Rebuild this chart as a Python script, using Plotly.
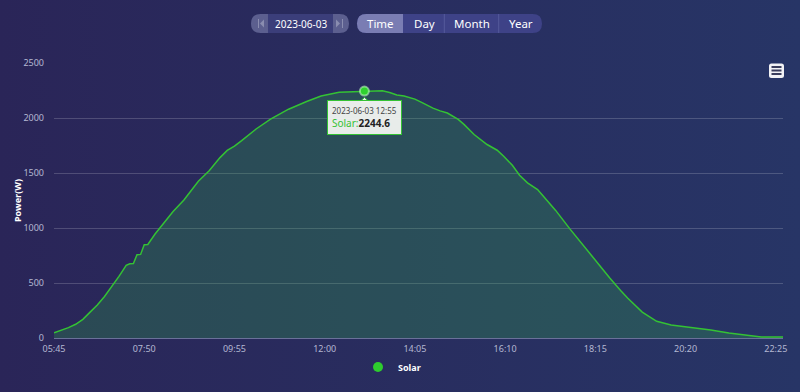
import plotly.graph_objects as go
import urllib.parse

# ---------------- data ----------------
day = "2023-06-03"
times = ["05:45", "05:55", "06:05", "06:15", "06:25", "06:35", "06:45", "06:55",
         "07:05", "07:15", "07:20", "07:25", "07:30", "07:35", "07:40", "07:45",
         "07:50", "07:55", "08:05", "08:15", "08:30", "08:45", "09:05", "09:20",
         "09:35", "09:45", "09:55", "10:05", "10:25", "10:45", "11:10", "11:35",
         "11:55", "12:20", "12:55", "13:20", "13:30", "13:40", "13:50", "14:05",
         "14:15", "14:30", "14:40", "14:50", "15:05", "15:13", "15:27", "15:45",
         "15:59", "16:08", "16:20", "16:30", "16:41", "16:55", "17:09", "17:20",
         "17:40", "18:05", "18:25", "18:35", "18:50", "19:00", "19:20", "19:40",
         "20:00", "20:25", "20:55", "21:20", "21:50", "22:05", "22:35"]
solar = [48, 70, 94, 125, 170, 235, 300, 377,
         465, 560, 610, 660, 675, 678, 757, 760,
         848, 850, 945, 1030, 1150, 1255, 1425, 1520,
         1640, 1705, 1745, 1795, 1900, 1990, 2080, 2150,
         2200, 2235, 2244.6, 2247, 2232, 2209, 2200, 2172,
         2140, 2090, 2065, 2045, 1987, 1942, 1850, 1759,
         1707, 1653, 1570, 1480, 1410, 1349, 1243, 1160,
         990, 785, 630, 546, 431, 362, 235, 152,
         118, 98, 73, 45, 18, 9, 9]
tick_labels = ["05:45", "07:50", "09:55", "12:00", "14:05", "16:10", "18:15", "20:20", "22:25"]
selected_time = "12:55"
series_name = "Solar"
y_title = "Power(W)"
y_max = 2500
y_step = 500
buttons = ["Time", "Day", "Month", "Year"]

x_vals = [f"{day} {t}" for t in times]
sel_i = times.index(selected_time)

# ---------------- geometry helpers (pixels -> paper) ----------------
W, H = 800, 392
L, R, T, B = 54, 783, 63, 338


def px(x):
    return (x - L) / (R - L)


def py(y):
    return (B - y) / (B - T)


def P(x, y):
    return f"{px(x):.5f},{py(y):.5f}"


def rrect(x0, y0, x1, y1, r, left=True, right=True):
    s = []
    s.append(f"M{P(x0 + r, y0)}" if left else f"M{P(x0, y0)}")
    if right:
        s.append(f"L{P(x1 - r, y0)}")
        s.append(f"Q{P(x1, y0)} {P(x1, y0 + r)}")
        s.append(f"L{P(x1, y1 - r)}")
        s.append(f"Q{P(x1, y1)} {P(x1 - r, y1)}")
    else:
        s.append(f"L{P(x1, y0)}")
        s.append(f"L{P(x1, y1)}")
    if left:
        s.append(f"L{P(x0 + r, y1)}")
        s.append(f"Q{P(x0, y1)} {P(x0, y1 - r)}")
        s.append(f"L{P(x0, y0 + r)}")
        s.append(f"Q{P(x0, y0)} {P(x0 + r, y0)}")
    else:
        s.append(f"L{P(x0, y1)}")
    s.append("Z")
    return " ".join(s)


FONT = "Noto Sans, Open Sans, sans-serif"
GREEN = "#34c234"
shapes = []
annotations = []

# ---- background gradient via svg image ----
svg = ("<svg xmlns='http://www.w3.org/2000/svg' width='800' height='392'>"
       "<defs><linearGradient id='g' x1='0' y1='0' x2='1' y2='0'>"
       "<stop offset='0' stop-color='#2a2558'/><stop offset='1' stop-color='#273566'/>"
       "</linearGradient></defs><rect width='800' height='392' fill='url(#g)'/></svg>")
bg_src = "data:image/svg+xml;charset=utf-8," + urllib.parse.quote(svg)

# ---- date picker pill ----
shapes.append(dict(type="path", xref="paper", yref="paper", layer="above",
                   path=rrect(251, 14, 349, 33, 9.5), fillcolor="#5c5f8f", line=dict(width=0)))
shapes.append(dict(type="path", xref="paper", yref="paper", layer="above",
                   path=rrect(268, 14, 333, 33, 0, left=False, right=False),
                   fillcolor="#3b3e7a", line=dict(width=0)))
for (lx, tri) in [(258.5, [(264, 19.5), (264, 27.5), (260, 23.5)]),
                  (342.5, [(336, 19.5), (336, 27.5), (340, 23.5)])]:
    shapes.append(dict(type="line", xref="paper", yref="paper", layer="above",
                       x0=px(lx), x1=px(lx), y0=py(19), y1=py(28),
                       line=dict(color="#8a8db0", width=1)))
    shapes.append(dict(type="path", xref="paper", yref="paper", layer="above",
                       path=f"M{P(*tri[0])} L{P(*tri[1])} L{P(*tri[2])} Z",
                       fillcolor="#8a8db0", line=dict(width=0)))
annotations.append(dict(text=day, xref="paper", yref="paper", x=px(300.5), y=py(23.5),
                        showarrow=False, font=dict(family=FONT, size=10, color="#ffffff"),
                        xanchor="center", yanchor="middle"))

# ---- time/day/month/year buttons ----
shapes.append(dict(type="path", xref="paper", yref="paper", layer="above",
                   path=rrect(357, 14, 542, 33, 9.5), fillcolor="#3e4287", line=dict(width=0)))
shapes.append(dict(type="path", xref="paper", yref="paper", layer="above",
                   path=rrect(357, 14, 403, 33, 9.5, left=True, right=False),
                   fillcolor="#7a7db3", line=dict(width=0)))
for dx in [444.3, 498.7]:
    shapes.append(dict(type="line", xref="paper", yref="paper", layer="above",
                       x0=px(dx), x1=px(dx), y0=py(14), y1=py(33),
                       line=dict(color="#565a9c", width=1)))
for label, cx in zip(buttons, [380, 424, 471.5, 520.5]):
    annotations.append(dict(text=label, xref="paper", yref="paper", x=px(cx), y=py(23.5),
                            showarrow=False, font=dict(family=FONT, size=11.5, color="#ffffff"),
                            xanchor="center", yanchor="middle"))

# ---- hamburger icon ----
shapes.append(dict(type="path", xref="paper", yref="paper", layer="above",
                   path=rrect(769, 63.5, 784, 78, 2.5), fillcolor="#f2f2f5", line=dict(width=0)))
for yy in [67, 70.5, 74]:
    shapes.append(dict(type="line", xref="paper", yref="paper", layer="above",
                       x0=px(771.5), x1=px(781.5), y0=py(yy), y1=py(yy),
                       line=dict(color="#3a3d5c", width=2)))

# ---- y axis title ----
annotations.append(dict(text=f"<b>{y_title}</b>", xref="paper", yref="paper",
                        x=px(17), y=py(201), textangle=-90, showarrow=False,
                        font=dict(family=FONT, size=9, color="#ffffff"),
                        xanchor="center", yanchor="middle"))

# ---- tooltip ----
shapes.append(dict(type="path", xref="paper", yref="paper", layer="above",
                   path=f"M{P(359, 102.5)} L{P(364.5, 97.5)} L{P(370, 102.5)} Z",
                   fillcolor="#eef0ee", line=dict(color=GREEN, width=1)))
annotations.append(dict(
    text=(f"<span style='font-size:8px;color:#444'>{day} {selected_time}</span><br>"
          f"<span style='color:{GREEN}'>{series_name}:</span>"
          f"<b><span style='color:#222'>{solar[sel_i]}</span></b>"),
    x=x_vals[sel_i], y=solar[sel_i], xref="x", yref="y", yshift=-26,
    showarrow=False, align="left", xanchor="center", yanchor="middle",
    bgcolor="rgba(240,242,240,0.96)", bordercolor=GREEN, borderwidth=1, borderpad=4,
    font=dict(family=FONT, size=10, color="#222")))

fig = go.Figure()
fig.add_trace(go.Scatter(
    x=x_vals, y=solar, mode="lines", name=series_name, showlegend=False,
    line=dict(color=GREEN, width=1.5, shape="linear"),
    fill="tozeroy", fillcolor="rgba(46,180,70,0.25)", hoverinfo="skip"))
fig.add_trace(go.Scatter(
    x=[x_vals[sel_i]], y=[solar[sel_i]], mode="markers", showlegend=False,
    marker=dict(color="#2fd02f", size=9, line=dict(color="rgba(200,255,200,0.55)", width=2)),
    hoverinfo="skip"))
fig.add_trace(go.Scatter(
    x=[None], y=[None], mode="markers", name=series_name, showlegend=True,
    marker=dict(color="#2ecc2e", size=10, symbol="circle")))

fig.update_layout(
    width=W, height=H,
    margin=dict(l=L, r=W - R, t=T, b=H - B, pad=0, autoexpand=False),
    paper_bgcolor="rgba(0,0,0,0)", plot_bgcolor="rgba(0,0,0,0)",
    images=[dict(source=bg_src, xref="paper", yref="paper",
                 x=-L / (R - L), y=1 + T / (B - T),
                 sizex=W / (R - L), sizey=H / (B - T),
                 xanchor="left", yanchor="top", sizing="stretch", layer="below")],
    font=dict(family=FONT, color="#b4b8d2", size=9),
    showlegend=True,
    legend=dict(orientation="h", x=0.5 - 8 / W, xref="container", xanchor="center",
                y=1 - 367 / H, yref="container", yanchor="middle",
                font=dict(family=FONT, size=9, color="#ffffff", weight="bold"),
                bgcolor="rgba(0,0,0,0)", itemwidth=30),
    shapes=shapes, annotations=annotations,
    hovermode=False,
    xaxis=dict(type="date", range=[x_vals[0], x_vals[-1]],
               tickvals=[f"{day} {t}" for t in tick_labels], ticktext=tick_labels,
               showgrid=False, zeroline=False, showline=True, linecolor="#6a7099", linewidth=1,
               ticks="", tickfont=dict(size=9, color="#b4b8d2"), ticklabelstandoff=2),
    yaxis=dict(range=[0, y_max], dtick=y_step, tick0=0, showgrid=True,
               gridcolor="rgba(255,255,255,0.18)", gridwidth=1, zeroline=False,
               showline=False, ticks="", tickfont=dict(size=9, color="#b4b8d2"),
               ticklabelstandoff=9),
)

fig.write_html("out.html", config={"displayModeBar": False},
               post_script="document.body.style.margin='0';document.body.style.padding='0';"
                           "document.body.style.overflow='hidden';")
